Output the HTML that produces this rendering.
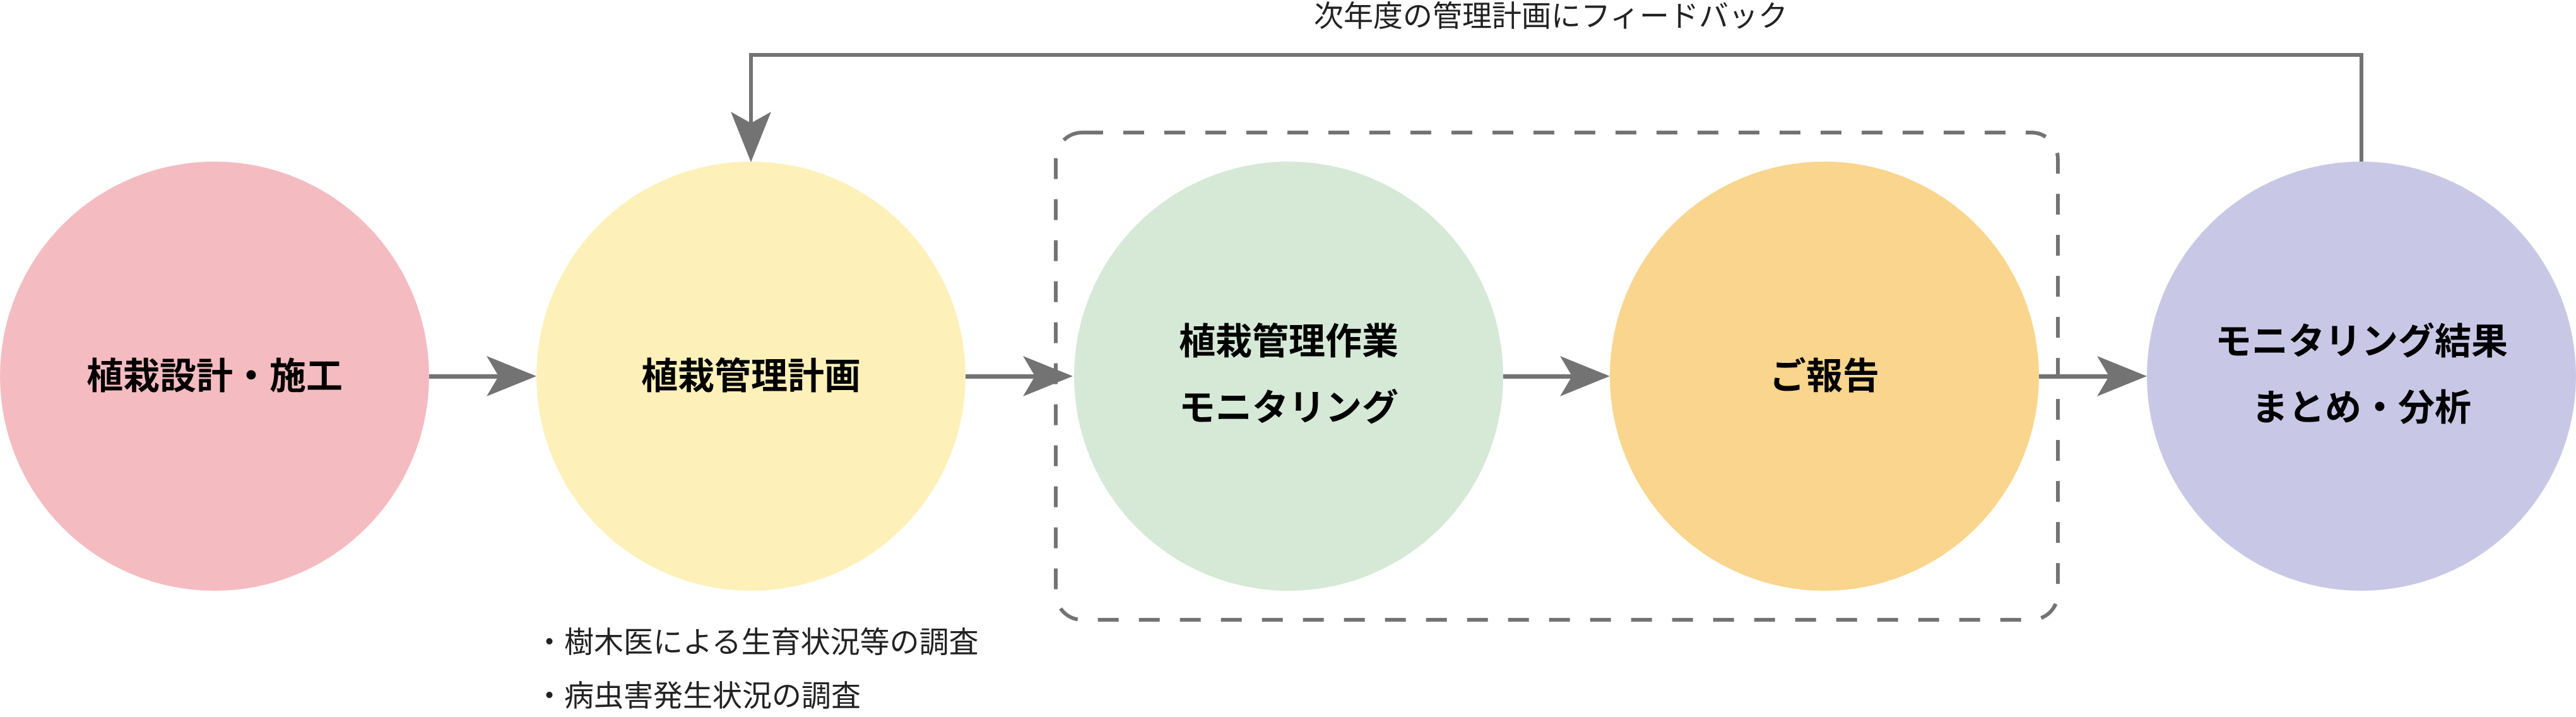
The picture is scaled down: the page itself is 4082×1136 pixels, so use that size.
<!DOCTYPE html>
<html><head><meta charset="utf-8"><style>
html,body{margin:0;padding:0;background:#fff;width:4082px;height:1136px;overflow:hidden}
svg text{font-family:"Liberation Sans","Noto Sans CJK JP",sans-serif}
</style></head><body>
<svg width="4082" height="1136" viewBox="0 0 4082 1136" xmlns="http://www.w3.org/2000/svg">
<circle cx="340" cy="596" r="340" fill="#f4bcc0"/>
<circle cx="1190" cy="596" r="340" fill="#fdf1b9"/>
<circle cx="2042" cy="596" r="340" fill="#d5e9d6"/>
<circle cx="2891" cy="596" r="340" fill="#f9d58d"/>
<circle cx="3742" cy="596" r="340" fill="#c8c8e6"/>
<rect x="1673" y="210" width="1588" height="772" rx="42" ry="42" fill="none" stroke="#737373" stroke-width="6" stroke-dasharray="33 32"/>
<g fill="#737373" stroke="none">
<rect x="680" y="593" width="130" height="7"/>
<polygon points="850,596 771,564 790,596 771,628"/>
<rect x="1530" y="593" width="130" height="7"/>
<polygon points="1700,596 1621,564 1640,596 1621,628"/>
<rect x="2382" y="593" width="130" height="7"/>
<polygon points="2551,596 2472,564 2491,596 2472,628"/>
<rect x="3231" y="593" width="130" height="7"/>
<polygon points="3402,596 3323,564 3342,596 3323,628"/>
<polygon points="1190,257 1158,177 1190,195 1222,177"/>
</g>
<polyline points="3742,256 3742,87 1190,87 1190,200" fill="none" stroke="#737373" stroke-width="6"/>
<g font-weight="bold" font-size="58" fill="#000" text-anchor="middle">
<text x="340" y="616">植栽設計・施工</text>
<text x="1190" y="616">植栽管理計画</text>
<text x="2042" y="561">植栽管理作業</text>
<text x="2042" y="666">モニタリング</text>
<text x="2891" y="616">ご報告</text>
<text x="3742" y="561">モニタリング結果</text>
<text x="3742" y="666">まとめ・分析</text>
</g>
<g font-size="47" fill="#222">
<text x="2082" y="42">次年度の管理計画にフィードバック</text>
<text x="847" y="1034">・樹木医による生育状況等の調査</text>
<text x="847" y="1119">・病虫害発生状況の調査</text>
</g>
</svg>
</body></html>
